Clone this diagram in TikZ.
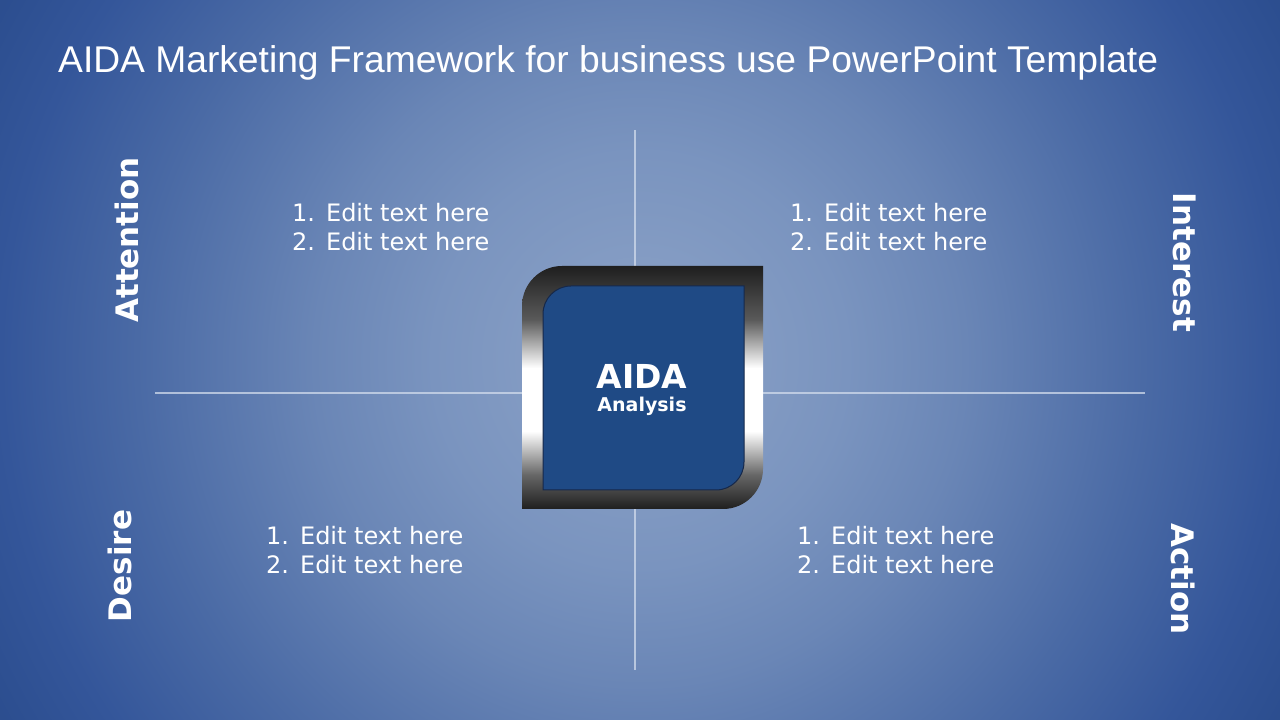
\documentclass[tikz,border=0pt]{standalone}
\usepackage{fontspec}
\setmainfont{DejaVu Sans}
\newfontfamily\titlefont{Liberation Sans}
\usetikzlibrary{positioning}

\definecolor{bgA}{HTML}{8DA3C7}
\definecolor{bgB}{HTML}{7A94BF}
\definecolor{bgC}{HTML}{6A86B6}
\definecolor{bgD}{HTML}{4A6AA5}
\definecolor{bgE}{HTML}{34569A}
\definecolor{bgF}{HTML}{2B4D8E}
\definecolor{boxblue}{HTML}{1F4A85}
\definecolor{boxedge}{HTML}{16284A}
\definecolor{crossline}{HTML}{D2DCEC}

% the middle 50bp of a shading covers the path
\pgfdeclareradialshading{slidebg}{\pgfpoint{0bp}{0bp}}{color(0bp)=(bgA); color(7bp)=(bgB); color(11bp)=(bgC); color(17bp)=(bgD); color(21.6bp)=(bgE); color(25bp)=(bgF); color(50bp)=(bgF)}
\pgfdeclareverticalshading{metal}{100bp}{color(0bp)=(black!88); color(25bp)=(black!88); color(32bp)=(black!60); color(41bp)=(white); color(54bp)=(white); color(64bp)=(black!65); color(75bp)=(black!88); color(100bp)=(black!88)}

\tikzset{every picture/.style={x=1pt,y=1pt}}

\begin{document}
\begin{tikzpicture}[inner sep=0pt,
    stage/.style={text=white, font=\fontsize{31}{36}\selectfont\bfseries},
    points/.style={text=white, align=left, anchor=west, font=\fontsize{24}{29}\selectfont},
    cross/.style={draw=crossline, line width=2pt, opacity=0.75}]
    \useasboundingbox (0,0) rectangle (1280,720);
    % background
    \begin{scope}
        \clip (0,0) rectangle (1280,720);
        \shade[shading=slidebg] (640,360) circle (740);
    \end{scope}

    \node[anchor=base west, text=white, font=\titlefont\fontsize{37.2}{40}\selectfont] (title) at (58,647)
        {AIDA Marketing Framework for business use PowerPoint Template};

    % cross lines
    \coordinate (top) at (635,590);
    \coordinate (bottom) at (635,50);
    \coordinate (left) at (155,327);
    \coordinate (right) at (1145,327);
    \draw[cross] (top) -- (bottom);
    \draw[cross] (left) -- (right);

    % centre box
    \shade[shading=metal] (522,211) -- (522,414) arc[start angle=180, end angle=90, radius=40]
        -- (763,454) -- (763,251) arc[start angle=0, end angle=-90, radius=40] -- cycle;
    \filldraw[fill=boxblue, draw=boxedge, line width=1pt] (543,230) -- (543,406) arc[start angle=180, end angle=90, radius=28]
        -- (744,434) -- (744,258) arc[start angle=0, end angle=-90, radius=28] -- cycle;
    \node[anchor=base, text=white, font=\fontsize{33}{36}\selectfont\bfseries] (aida) at (642,331) {AIDA};
    \node[anchor=base, text=white, font=\fontsize{19}{22}\selectfont\bfseries] (analysis) at (642,308) {Analysis};

    % stage labels
    \node[stage, rotate=90] (attention) at (127,480) {Attention};
    \node[stage, rotate=-90] (interest) at (1185,457.5) {Interest};
    \node[stage, rotate=90] (desire) at (120,154) {Desire};
    \node[stage, rotate=-90] (action) at (1183,141) {Action};

    % lists
    \node[points] (listA) at (292,492.5) {1.\hspace{11pt}Edit text here\\2.\hspace{11pt}Edit text here};
    \node[points] (listI) at (790,492.5) {1.\hspace{11pt}Edit text here\\2.\hspace{11pt}Edit text here};
    \node[points] (listD) at (266,169.5) {1.\hspace{11pt}Edit text here\\2.\hspace{11pt}Edit text here};
    \node[points] (listC) at (797,169.5) {1.\hspace{11pt}Edit text here\\2.\hspace{11pt}Edit text here};
\end{tikzpicture}
\end{document}
